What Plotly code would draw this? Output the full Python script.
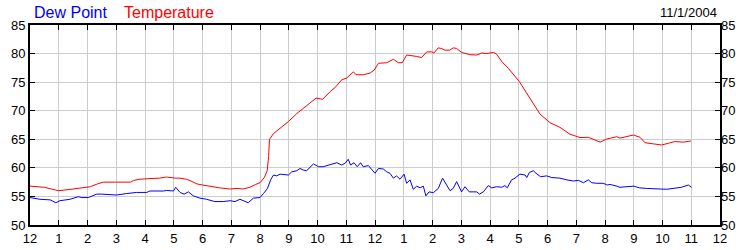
import plotly.graph_objects as go

# Hours after midnight and readings (deg F)
temp_hours = [0, 0.5, 0.9, 1.0, 1.5, 1.9, 2.1, 2.35, 2.55, 3.0, 3.5, 3.6, 3.8, 4.1, 4.5, 4.75, 4.85,
              5.05, 5.2, 5.45, 5.6, 5.8, 6.0, 6.3, 6.6, 6.95, 7.2, 7.4, 7.65, 7.85, 8.0, 8.15, 8.25,
              8.3, 8.33, 8.47, 8.7, 8.99, 9.28, 9.62, 9.95, 10.18, 10.43, 10.64, 10.84, 11.01, 11.25,
              11.34, 11.6, 11.83, 11.97, 12.12, 12.41, 12.64, 12.81, 12.95, 13.1, 13.45, 13.62, 13.8,
              13.97, 14.05, 14.2, 14.3, 14.43, 14.6, 14.72, 14.84, 15.01, 15.3, 15.54, 15.71, 15.88,
              16.12, 16.23, 16.41, 16.64, 17.02, 17.39, 17.74, 18.09, 18.43, 18.78, 19.13, 19.42,
              19.83, 20.06, 20.41, 20.52, 20.75, 20.99, 21.22, 21.39, 21.68, 21.97, 22.2, 22.43,
              22.72, 22.99]
temperature = [56.8, 56.6, 56.1, 56.0, 56.3, 56.6, 56.7, 57.2, 57.5, 57.5, 57.5, 57.8, 58.0, 58.1, 58.2,
               58.4, 58.3, 58.2, 58.2, 58.0, 57.7, 57.2, 57.0, 56.7, 56.5, 56.3, 56.4, 56.3, 56.6, 57.1,
               57.4, 58.3, 59.5, 62.0, 65.0, 66.0, 66.9, 68.1, 69.5, 70.8, 72.2, 72.0, 73.3, 74.2, 75.4,
               75.7, 76.8, 76.3, 76.3, 76.6, 77.1, 78.3, 78.4, 79.0, 78.4, 78.4, 79.75, 79.5, 79.3, 80.3,
               80.3, 80.1, 81.0, 80.9, 80.6, 80.6, 81.0, 80.9, 80.2, 79.8, 79.75, 80.1, 80.0, 80.2, 79.9,
               78.6, 77.4, 75.1, 72.2, 69.4, 67.9, 67.1, 65.9, 65.3, 65.35, 64.5, 65.05, 65.45, 65.2,
               65.45, 65.75, 65.35, 64.4, 64.2, 64.0, 64.3, 64.6, 64.5, 64.7]

dew_hours = [0, 0.35, 0.7, 0.9, 1.04, 1.39, 1.68, 1.8, 2.03, 2.32, 2.49, 3.01, 3.36, 3.71, 4.06, 4.17,
             4.64, 4.75, 4.99, 5.07, 5.22, 5.36, 5.51, 5.68, 5.91, 6.14, 6.43, 6.72, 6.96, 7.13, 7.3,
             7.48, 7.59, 7.77, 8.0, 8.12, 8.26, 8.37, 8.47, 8.58, 8.7, 8.99, 9.1, 9.28, 9.39, 9.51,
             9.62, 9.86, 10.03, 10.2, 10.43, 10.67, 10.84, 10.96, 11.07, 11.15, 11.27, 11.38, 11.5,
             11.59, 11.77, 11.88, 12.0, 12.12, 12.29, 12.41, 12.52, 12.64, 12.75, 12.87, 13.01, 13.1,
             13.22, 13.33, 13.45, 13.57, 13.68, 13.77, 13.88, 14.03, 14.2, 14.35, 14.49, 14.61, 14.72,
             14.84, 15.01, 15.13, 15.28, 15.54, 15.63, 15.77, 15.94, 16.06, 16.23, 16.41, 16.52, 16.6,
             16.75, 16.87, 17.04, 17.22, 17.28, 17.37, 17.51, 17.6, 17.76, 17.97, 18.15, 18.43, 18.67,
             18.9, 19.08, 19.25, 19.42, 19.54, 19.71, 19.94, 20.08, 20.17, 20.41, 20.52, 21.0, 21.2,
             21.45, 21.91, 22.14, 22.37, 22.66, 22.9, 23.01]
dew_point = [54.8, 54.5, 54.4, 53.9, 54.25, 54.5, 54.95, 54.8, 54.8, 55.4, 55.4, 55.25, 55.5, 55.7, 55.7,
             55.95, 55.95, 56.05, 55.95, 56.6, 55.7, 55.4, 55.8, 55.1, 54.7, 54.5, 54.1, 54.1, 54.25,
             54.1, 54.5, 54.2, 53.9, 54.7, 54.8, 55.5, 56.4, 57.9, 58.75, 58.6, 58.9, 58.75, 59.3, 59.5,
             59.9, 59.6, 59.5, 60.7, 60.2, 60.2, 60.6, 60.9, 60.5, 60.8, 61.5, 60.5, 60.9, 60.2, 60.9,
             60.2, 60.4, 59.75, 59.05, 59.9, 59.8, 59.3, 59.05, 58.2, 58.6, 58.0, 58.9, 57.3, 57.9,
             56.25, 56.8, 56.5, 56.8, 55.1, 55.8, 55.65, 56.4, 58.2, 57.0, 56.0, 56.4, 57.6, 55.8, 56.7,
             55.8, 55.8, 55.4, 55.8, 56.9, 56.5, 56.7, 56.6, 56.9, 56.5, 57.9, 58.2, 58.9, 58.75, 58.3,
             59.2, 59.5, 59.05, 58.45, 58.6, 58.3, 58.2, 57.9, 57.7, 57.8, 57.4, 57.9, 57.4, 57.3, 57.3,
             57.0, 57.1, 56.8, 56.6, 56.8, 56.5, 56.4, 56.25, 56.25, 56.4, 56.6, 57.0, 56.6]

x_tick_vals = list(range(0, 25))
x_tick_text = ["12", "1", "2", "3", "4", "5", "6", "7", "8", "9", "10", "11",
               "12", "1", "2", "3", "4", "5", "6", "7", "8", "9", "10", "11", "12"]
y_tick_vals = [50, 55, 60, 65, 70, 75, 80, 85]
date_label = "11/1/2004"

FONT = "Liberation Sans, Arial, sans-serif"

fig = go.Figure()
fig.add_trace(go.Scatter(x=dew_hours, y=dew_point, mode="lines", name="Dew Point",
                         line=dict(color="#0000FF", width=1)))
fig.add_trace(go.Scatter(x=temp_hours, y=temperature, mode="lines", name="Temperature",
                         line=dict(color="#FF0000", width=1)))

axis_common = dict(showline=True, linecolor="black", linewidth=2, ticks="inside", ticklen=5,
                   tickcolor="black", tickwidth=1, showgrid=True, gridcolor="#cccccc", gridwidth=1,
                   zeroline=False, automargin=False,
                   tickfont=dict(family=FONT, size=13, color="black"))

fig.update_layout(
    width=750, height=250,
    margin=dict(l=30, r=30, t=25, b=25, autoexpand=False),
    paper_bgcolor="white", plot_bgcolor="white",
    showlegend=False,
    xaxis=dict(range=[0, 24], tickvals=x_tick_vals, ticktext=x_tick_text, mirror="ticks",
               **axis_common),
    yaxis=dict(range=[50, 85], tickvals=y_tick_vals, mirror="ticks", **axis_common),
    yaxis2=dict(range=[50, 85], tickvals=y_tick_vals, overlaying="y", side="right",
                showline=False, ticks="", showgrid=False, zeroline=False, automargin=False,
                tickfont=dict(family=FONT, size=13, color="black")),
    annotations=[
        dict(text="Dew Point", xref="paper", yref="paper", x=0.003, y=1.065, xanchor="left",
             yanchor="middle", showarrow=False, font=dict(family=FONT, size=16, color="#0000FF")),
        dict(text="Temperature", xref="paper", yref="paper", x=0.133, y=1.065, xanchor="left",
             yanchor="middle", showarrow=False, font=dict(family=FONT, size=16, color="#FF0000")),
        dict(text=date_label, xref="paper", yref="paper", x=0.998, y=1.065, xanchor="right",
             yanchor="middle", showarrow=False, font=dict(family=FONT, size=13, color="black")),
    ],
)
# invisible trace to activate right-hand axis labels
fig.add_trace(go.Scatter(x=[None], y=[None], yaxis="y2", showlegend=False, hoverinfo="skip"))

fig.write_html("out.html")
